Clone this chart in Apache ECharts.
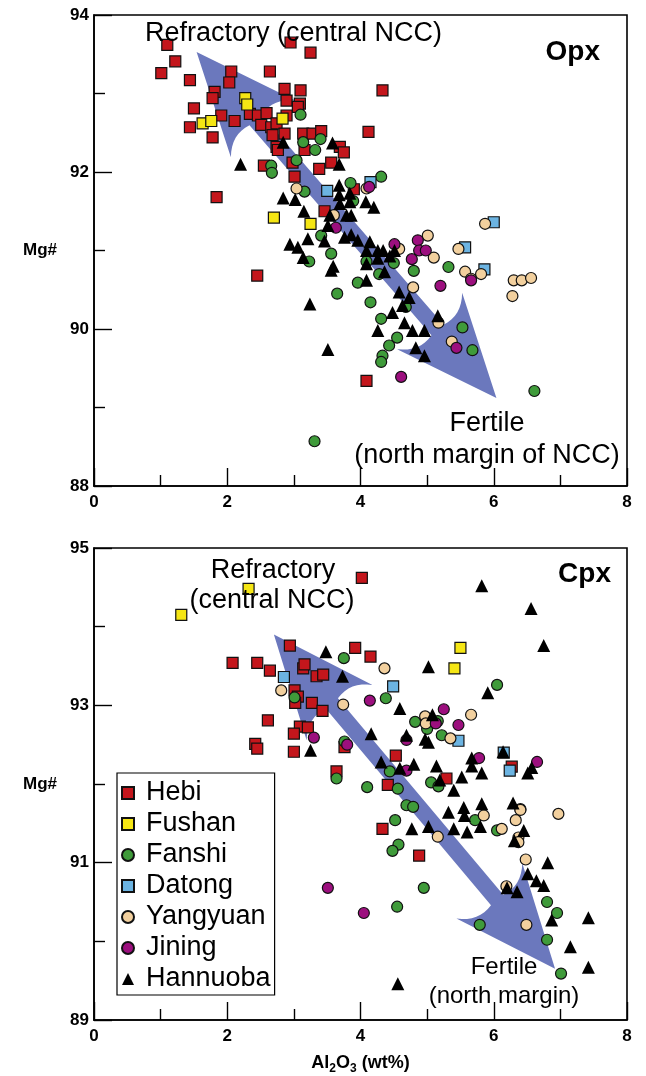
<!DOCTYPE html>
<html>
<head>
<meta charset="UTF-8">
<title>Mg# vs Al2O3 - Opx / Cpx</title>
<script src="https://cdn.jsdelivr.net/npm/echarts@6/dist/echarts.min.js"></script>
<style>
  html, body { margin: 0; padding: 0; background: #fff; }
  #chart { width: 646px; height: 1076px; }
</style>
</head>
<body>
<div id="chart"></div>
<script>
const groupNames = ['Hebi', 'Fushan', 'Fanshi', 'Datong', 'Yangyuan', 'Jining', 'Hannuoba'];
const xTicks = [0, 2, 4, 6, 8];
const opxTicks = [88, 90, 92, 94];
const cpxTicks = [89, 91, 93, 95];

// Opx panel: [Al2O3, Mg#]
const hebiOpx = [[1.10,93.62],[1.22,93.41],[1.01,93.26],[1.44,93.17],[2.06,93.28],[2.03,93.14],[2.64,93.28],[2.95,93.65],[3.25,93.52],[1.81,93.02],[1.78,92.94],[1.50,92.81],[1.44,92.57],[1.78,92.44],[1.91,92.72],[2.11,92.65],[2.86,93.06],[3.10,93.04],[2.89,92.91],[3.09,92.87],[3.06,92.83],[2.34,92.74],[2.46,92.72],[2.59,92.75],[2.51,92.60],[2.66,92.57],[2.74,92.62],[2.68,92.47],[2.86,92.49],[2.89,92.72],[3.14,92.49],[3.28,92.49],[3.41,92.52],[2.74,92.32],[2.76,92.28],[3.16,92.28],[3.69,92.32],[3.75,92.25],[4.12,92.51],[2.55,92.08],[2.98,92.12],[3.38,92.04],[3.56,92.12],[3.01,91.94],[1.84,91.68],[3.90,91.78],[3.46,91.50],[4.33,93.04],[2.45,90.68],[4.09,89.34]];
const fushanOpx = [[2.27,92.94],[2.30,92.86],[1.63,92.62],[1.76,92.65],[2.83,92.68],[2.70,91.42],[3.25,91.34]];
const fanshiOpx = [[3.10,92.73],[3.14,92.38],[3.40,92.42],[3.32,92.28],[3.04,92.15],[2.66,92.08],[2.67,91.99],[3.16,91.75],[3.85,91.86],[3.41,91.19],[3.89,91.63],[4.31,91.94],[3.56,90.96],[3.23,90.86],[4.09,90.86],[4.28,90.70],[4.50,90.84],[4.80,90.74],[5.32,90.79],[3.96,90.59],[3.65,90.45],[4.15,90.34],[4.31,90.13],[4.68,90.28],[4.55,89.89],[4.43,89.79],[4.33,89.66],[4.31,89.58],[5.53,90.02],[5.68,89.73],[6.61,89.21],[3.31,88.57]];
const datongOpx = [[3.50,91.76],[4.15,91.87],[6.00,91.36],[5.57,91.04],[5.86,90.76]];
const yangyuanOpx = [[3.04,91.79],[3.60,91.45],[4.09,91.79],[4.58,91.02],[5.01,91.19],[5.10,90.91],[4.79,90.53],[5.47,91.02],[5.57,90.73],[5.81,90.70],[5.66,90.64],[5.87,91.34],[6.30,90.62],[6.42,90.62],[6.56,90.65],[6.28,90.42],[5.17,90.08],[5.37,89.84]];
const jiningOpx = [[3.63,91.29],[4.13,91.81],[4.51,91.08],[4.86,91.13],[4.88,91.00],[4.98,91.00],[4.77,90.89],[5.20,90.55],[5.66,90.62],[5.44,89.76],[4.61,89.39]];
const hannuobaOpx = [[2.84,92.38],[2.20,92.10],[3.58,92.37],[3.68,92.10],[2.84,91.67],[3.02,91.65],[3.15,91.50],[3.68,91.83],[3.68,91.71],[3.84,91.73],[3.69,91.60],[3.84,91.62],[4.08,91.62],[4.20,91.55],[3.54,91.45],[3.79,91.45],[3.86,91.45],[3.51,91.32],[2.94,91.08],[3.06,91.04],[3.21,91.15],[3.46,91.12],[3.76,91.17],[3.86,91.20],[3.96,91.13],[4.14,91.11],[4.09,91.00],[4.26,91.00],[4.34,91.00],[4.51,91.00],[4.26,90.90],[4.44,90.93],[4.09,90.83],[4.36,90.73],[3.56,90.75],[3.59,90.80],[3.14,90.91],[4.09,90.62],[4.58,90.47],[4.73,90.40],[4.63,90.30],[4.48,90.21],[4.66,90.08],[4.78,89.98],[4.96,89.98],[4.26,89.98],[5.16,90.17],[4.83,89.76],[4.96,89.66],[3.24,90.32],[3.51,89.74]];

// Cpx panel: [Al2O3, Mg#]
const hebiCpx = [[4.02,94.62],[2.94,93.76],[2.08,93.54],[2.45,93.54],[2.64,93.44],[3.14,93.47],[3.16,93.52],[3.34,93.37],[3.44,93.39],[3.92,93.73],[4.15,93.62],[3.01,93.19],[3.06,93.11],[3.02,93.03],[3.27,93.03],[3.43,92.93],[2.61,92.81],[3.09,92.73],[3.21,92.72],[3.00,92.64],[2.42,92.51],[2.45,92.45],[3.00,92.41],[3.76,92.47],[3.64,92.16],[4.53,92.36],[4.41,91.99],[5.29,92.07],[6.27,92.22],[4.33,91.43],[4.88,91.09]];
const fushanCpx = [[2.32,94.48],[1.31,94.15],[5.50,93.73],[5.41,93.47]];
const fanshiCpx = [[3.01,93.10],[3.75,93.60],[3.76,92.54],[3.64,92.07],[4.10,91.96],[6.05,93.26],[4.38,93.09],[4.82,92.79],[5.00,92.70],[5.16,92.80],[5.22,92.62],[4.44,92.16],[4.56,91.94],[5.06,92.02],[5.17,91.97],[4.69,91.73],[4.79,91.71],[4.52,91.54],[4.57,91.23],[4.48,91.15],[4.95,90.68],[4.55,90.44],[5.79,90.21],[5.72,91.54],[6.05,91.41],[6.80,90.50],[6.95,90.36],[6.80,90.02],[7.01,89.59]];
const datongCpx = [[2.85,93.36],[4.49,93.24],[5.47,92.55],[6.15,92.40],[6.24,92.17]];
const yangyuanCpx = [[2.81,93.19],[3.74,93.01],[4.36,93.47],[4.97,92.86],[4.98,92.77],[5.66,92.88],[5.35,92.58],[6.40,91.68],[5.16,91.33],[5.85,91.60],[6.12,91.43],[6.40,91.67],[6.33,91.54],[6.37,91.32],[6.37,91.26],[6.48,91.04],[6.97,91.62],[6.19,90.70],[6.49,90.21]];
const jiningCpx = [[4.14,93.06],[3.30,92.59],[3.80,92.50],[5.25,92.95],[5.13,92.77],[5.47,92.75],[4.69,92.56],[5.78,92.33],[6.65,92.28],[4.69,92.17],[4.05,90.36],[3.51,90.68]];
const hannuobaCpx = [[3.48,93.68],[3.73,93.37],[4.16,92.64],[3.25,92.43],[5.82,94.52],[6.56,94.23],[6.75,93.76],[5.02,93.49],[5.91,93.16],[4.59,92.96],[5.08,92.88],[4.69,92.62],[4.97,92.57],[5.02,92.53],[4.31,92.28],[4.59,92.20],[4.80,92.25],[5.14,92.23],[5.67,92.33],[5.67,92.23],[5.82,92.14],[5.52,92.09],[5.40,91.92],[5.19,92.05],[6.14,92.41],[6.51,92.14],[6.57,92.21],[6.29,91.76],[5.82,91.75],[5.55,91.70],[5.32,91.64],[5.56,91.60],[4.77,91.43],[5.02,91.46],[5.40,91.43],[5.60,91.39],[5.80,91.46],[6.45,91.41],[6.31,91.28],[6.81,91.00],[6.51,90.86],[6.64,90.77],[6.75,90.71],[6.20,90.68],[6.35,90.63],[6.87,90.27],[7.42,90.30],[7.15,89.93],[7.42,89.67],[4.56,89.46]];

// trend arrows: [x1, y1, x2, y2] in data units (refractory -> fertile)
const opxArrow = [[1.54, 93.53, 6.04, 89.12]];
const cpxArrow = [[2.70, 93.90, 6.92, 89.65]];

const opxData = [hebiOpx, fushanOpx, fanshiOpx, datongOpx, yangyuanOpx, jiningOpx, hannuobaOpx];
const cpxData = [hebiCpx, fushanCpx, fanshiCpx, datongCpx, yangyuanCpx, jiningCpx, hannuobaCpx];

const FONT = "'Liberation Sans', Arial, Helvetica, sans-serif";
const markerStyles = {
  Hebi:     { symbol: 'rect', size: 11, color: '#c4161c' },
  Fushan:   { symbol: 'rect', size: 11, color: '#f5e614' },
  Fanshi:   { symbol: 'circle', size: 11, color: '#3f9b3a' },
  Datong:   { symbol: 'rect', size: 11, color: '#6cb4e2' },
  Yangyuan: { symbol: 'circle', size: 11, color: '#f2d09e' },
  Jining:   { symbol: 'circle', size: 11, color: '#9c0f7e' },
  Hannuoba: { symbol: 'triangle', size: 13, color: '#000000' }
};
const arrowColor = '#6b78bd';

function arrowOutline(len) {
  const H = 102, W = 43, J = 90, S = 8, C = [85, 28];
  const curve = (a, c, b) => {
    const pts = [];
    for (let i = 1; i < 8; i++) {
      const t = i / 8;
      pts.push([
        (1 - t) * (1 - t) * a[0] + 2 * t * (1 - t) * c[0] + t * t * b[0],
        (1 - t) * (1 - t) * a[1] + 2 * t * (1 - t) * c[1] + t * t * b[1]
      ]);
    }
    return pts;
  };
  const upper = [[0, 0], [H, W]]
    .concat(curve([H, W], C, [J, S]))
    .concat([[J, S], [len - J, S]])
    .concat(curve([len - J, S], [len - C[0], C[1]], [len - H, W]))
    .concat([[len - H, W], [len, 0]]);
  const lower = upper.slice(1, -1).reverse().map(p => [p[0], -p[1]]);
  return upper.concat(lower);
}

function renderArrow(params, api) {
  const p1 = api.coord([api.value(0), api.value(1)]);
  const p2 = api.coord([api.value(2), api.value(3)]);
  const dx = p2[0] - p1[0];
  const dy = p2[1] - p1[1];
  const len = Math.sqrt(dx * dx + dy * dy);
  const ux = dx / len, uy = dy / len;
  const nx = -uy, ny = ux;
  const points = arrowOutline(len).map(([u, v]) => [p1[0] + ux * u + nx * v, p1[1] + uy * u + ny * v]);
  return { type: 'polygon', shape: { points }, style: { fill: arrowColor } };
}

function xAxisFor(gridIndex, withName) {
  const axis = {
    type: 'value', gridIndex, min: xTicks[0], max: xTicks[xTicks.length - 1], interval: xTicks[1] - xTicks[0],
    axisLine: { onZero: false, lineStyle: { color: '#000', width: 1.6 } },
    axisTick: { inside: true, length: 18, lineStyle: { color: '#000', width: 1.4 } },
    minorTick: { show: true, splitNumber: 2, length: 11, lineStyle: { color: '#000', width: 1.4 } },
    splitLine: { show: false },
    axisLabel: { margin: 8, color: '#000', fontSize: 17, fontWeight: 'bold', fontFamily: FONT }
  };
  if (withName) {
    axis.name = 'Al{sub|2}O{sub|3} (wt%)';
    axis.nameLocation = 'middle';
    axis.nameGap = 31;
    axis.nameTextStyle = {
      color: '#000', fontSize: 18, fontWeight: 'bold', fontFamily: FONT, lineHeight: 24,
      rich: { sub: { fontSize: 12, fontWeight: 'bold', fontFamily: FONT, lineHeight: 12, verticalAlign: 'bottom' } }
    };
  }
  return axis;
}

function yAxisFor(gridIndex, ticks) {
  return {
    type: 'value', gridIndex, min: ticks[0], max: ticks[ticks.length - 1], interval: ticks[1] - ticks[0],
    name: 'Mg#', nameLocation: 'middle', nameRotate: 0, nameGap: 37,
    nameTextStyle: { color: '#000', fontSize: 17, fontWeight: 'bold', fontFamily: FONT },
    axisLine: { onZero: false, lineStyle: { color: '#000', width: 1.6 } },
    axisTick: { inside: true, length: 18, lineStyle: { color: '#000', width: 1.4 } },
    minorTick: { show: true, splitNumber: 2, length: 11, lineStyle: { color: '#000', width: 1.4 } },
    splitLine: { show: false },
    axisLabel: { margin: 5, color: '#000', fontSize: 17, fontWeight: 'bold', fontFamily: FONT }
  };
}

const series = [
  { type: 'custom', name: 'arrowOpx', xAxisIndex: 0, yAxisIndex: 0, renderItem: renderArrow, data: opxArrow, silent: true, z: 1, encode: { x: 0, y: 1 } },
  { type: 'custom', name: 'arrowCpx', xAxisIndex: 1, yAxisIndex: 1, renderItem: renderArrow, data: cpxArrow, silent: true, z: 1, encode: { x: 0, y: 1 } }
];
[opxData, cpxData].forEach((panel, gi) => {
  panel.forEach((values, i) => {
    const name = groupNames[i];
    const st = markerStyles[name];
    series.push({
      type: 'scatter', name, xAxisIndex: gi, yAxisIndex: gi, data: values,
      symbol: st.symbol, symbolSize: st.size, z: 2 + i,
      itemStyle: { color: st.color, borderColor: '#111', borderWidth: st.symbol === 'triangle' ? 0 : 1.2, opacity: 1 },
      emphasis: { disabled: true }
    });
  });
});

function label(text, x, y, size, bold, align) {
  return {
    type: 'text', x, y, z: 50,
    style: {
      text, fill: '#000', font: (bold ? 'bold ' : '') + size + 'px ' + FONT,
      align, textAlign: align, verticalAlign: 'middle', textVerticalAlign: 'middle'
    }
  };
}

const chart = echarts.init(document.getElementById('chart'), null, { renderer: 'canvas' });
chart.setOption({
  backgroundColor: '#fff',
  animation: false,
  grid: [
    { left: 94, right: 19, top: 15, height: 471, show: true, borderColor: '#000', borderWidth: 1.6, backgroundColor: 'transparent' },
    { left: 94, right: 19, top: 548, height: 472, show: true, borderColor: '#000', borderWidth: 1.6, backgroundColor: 'transparent' }
  ],
  xAxis: [xAxisFor(0, false), xAxisFor(1, true)],
  yAxis: [yAxisFor(0, opxTicks), yAxisFor(1, cpxTicks)],
  legend: {
    data: groupNames,
    orient: 'vertical',
    left: 117, top: 773,
    padding: [6, 4, 2, 4],
    itemGap: 3,
    itemWidth: 12, itemHeight: 12,
    borderColor: '#000', borderWidth: 1.2,
    selectedMode: false,
    textStyle: { color: '#000', fontSize: 27, fontFamily: FONT, lineHeight: 28, padding: [0, 0, 0, 7] }
  },
  graphic: [
    label('Opx', 600, 52, 28, true, 'right'),
    label('Cpx', 611, 574, 28, true, 'right'),
    label('Refractory (central NCC)', 145, 34, 27, false, 'left'),
    label('Fertile', 487, 424, 27, false, 'center'),
    label('(north margin of NCC)', 487, 456, 27, false, 'center'),
    label('Refractory', 273, 571, 27, false, 'center'),
    label('(central NCC)', 272, 601, 27, false, 'center'),
    label('Fertile', 504, 967, 24, false, 'center'),
    label('(north margin)', 504, 996, 24, false, 'center')
  ],
  series
});
</script>
</body>
</html>
